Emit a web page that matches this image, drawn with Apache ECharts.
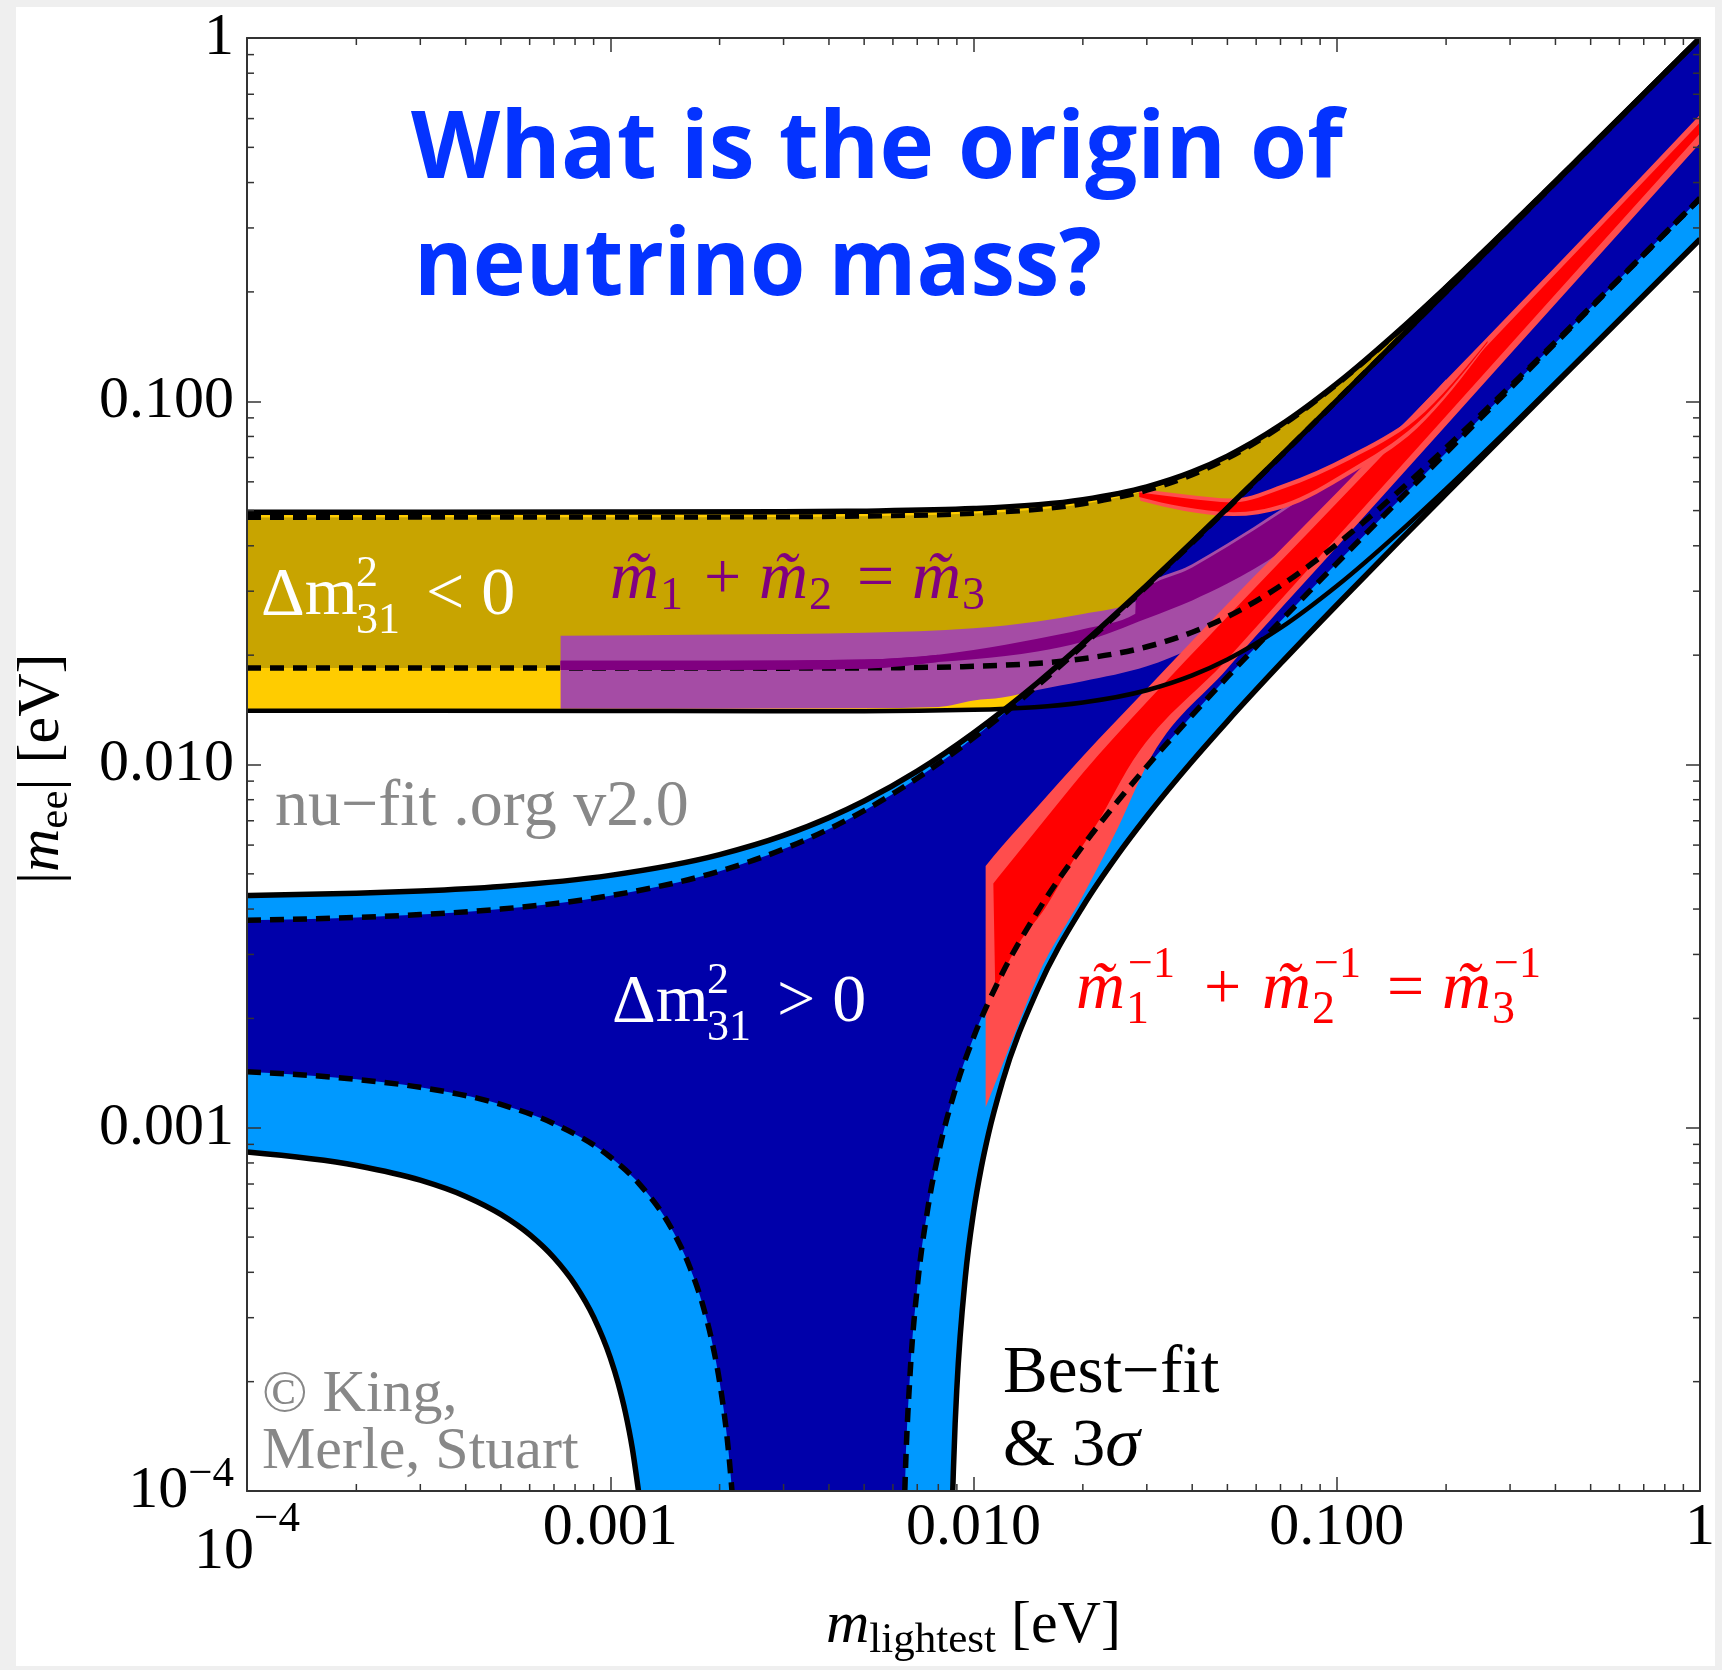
<!DOCTYPE html>
<html><head><meta charset="utf-8">
<script src="https://cdn.jsdelivr.net/npm/echarts@6/dist/echarts.min.js"></script>
<style>
html,body{margin:0;padding:0;background:#efefef;}
#panel{position:absolute;left:16px;top:7px;width:1699px;height:1659px;background:#fff;}
#chart{position:absolute;left:0;top:0;width:1722px;height:1670px;}
</style></head><body>
<div id="panel"></div><div id="chart"></div>
<script>
// ---------------- data: [m_lightest (eV), |m_ee| (eV)] ----------------
const NO_3S_UPPER = [[1e-4,0.004357],[2e-4,0.004422],[3e-4,0.004487],[5e-4,0.004618],[1e-3,0.004952],[2e-3,0.005647],[3e-3,0.006378],[4e-3,0.007140],[5e-3,0.007932],[7e-3,0.009588],[0.01,0.01221],[0.012,0.01402],[0.015,0.01679],[0.02,0.02152],[0.025,0.02632],[0.03,0.03117],[0.04,0.04096],[0.05,0.05081],[0.07,0.07061],[0.1,0.1004],[0.15,0.1503],[0.2,0.2002],[0.3,0.3002],[0.5,0.5001],[1,1.0]];
const NO_BEST_UPPER = [[1e-4,0.003724],[2e-4,0.003793],[3e-4,0.003862],[5e-4,0.004000],[1e-3,0.004354],[2e-3,0.005086],[3e-3,0.005851],[4e-3,0.006644],[5e-3,0.007464],[7e-3,0.009169],[0.01,0.01184],[0.012,0.01368],[0.015,0.01649],[0.02,0.02126],[0.025,0.02610],[0.03,0.03097],[0.04,0.04079],[0.05,0.05067],[0.07,0.07050],[0.1,0.1004],[0.15,0.1502],[0.2,0.2002],[0.3,0.3001],[0.5,0.5001],[1,1.0]];
const NO_BEST_LOWER_LEFT = [[1e-4,0.001427],[2e-4,0.001359],[3e-4,0.001292],[5e-4,0.001159],[7e-4,0.001026],[1e-3,0.0008308],[1.2e-3,0.0007020],[1.5e-3,0.0005114],[1.65e-3,0.0004169],[1.8e-3,0.0003235],[1.9e-3,0.0002614],[2e-3,0.0001999],[2.05e-3,0.0001691],[2.1e-3,0.0001386],[2.15e-3,0.0001079],[2.163e-3,0.0001]];
const NO_BEST_LOWER_RIGHT = [[6.469e-3,0.0001],[6.5e-3,0.0001157],[6.7e-3,0.0002153],[7e-3,0.000363],[7.5e-3,0.0006066],[8e-3,0.000846],[9e-3,0.001315],[0.01,0.001772],[0.012,0.002658],[0.015,0.003933],[0.02,0.005971],[0.025,0.007943],[0.03,0.009876],[0.04,0.01367],[0.05,0.01742],[0.07,0.02481],[0.1,0.0358],[0.15,0.054],[0.2,0.07214],[0.3,0.1084],[0.5,0.1808],[1,0.3616]];
const NO_3S_LOWER_LEFT = [[1e-4,0.000858],[2e-4,0.0007875],[3e-4,0.0007171],[4e-4,0.000647],[5e-4,0.0005772],[6e-4,0.0005078],[7e-4,0.0004386],[8e-4,0.0003698],[9e-4,0.0003011],[1e-3,0.0002329],[1.05e-3,0.0001989],[1.1e-3,0.000165],[1.15e-3,0.0001311],[1.196e-3,0.0001]];
const NO_3S_LOWER_RIGHT = [[8.768e-3,0.0001],[8.8e-3,0.0001128],[8.9e-3,0.0001529],[9e-3,0.0001926],[9.5e-3,0.0003901],[0.01,0.0005842],[0.0105,0.0007754],[0.011,0.0009641],[0.012,0.001334],[0.015,0.002398],[0.02,0.004066],[0.025,0.005658],[0.03,0.007203],[0.04,0.01021],[0.05,0.01315],[0.07,0.01894],[0.1,0.02748],[0.15,0.04158],[0.2,0.05561],[0.3,0.08361],[0.5,0.1395],[1,0.2792]];

const IO_3S_UPPER = [[1e-4,0.04949],[1e-3,0.04952],[3e-3,0.04963],[5e-3,0.04983],[0.01,0.05064],[0.02,0.05361],[0.03,0.05815],[0.04,0.06392],[0.05,0.07063],[0.07,0.08597],[0.1,0.1118],[0.15,0.1581],[0.2,0.2061],[0.3,0.3041],[0.5,0.5025],[1,1.0]];
const IO_BEST_UPPER = [[1e-4,0.04789],[1e-3,0.04792],[3e-3,0.04804],[5e-3,0.04824],[0.01,0.04909],[0.02,0.05216],[0.03,0.05682],[0.04,0.06271],[0.05,0.06954],[0.07,0.08508],[0.1,0.1111],[0.15,0.1576],[0.2,0.2058],[0.3,0.3039],[0.5,0.5023],[1,1.0]];
const IO_BEST_LOWER = [[1e-4,0.01845],[1e-3,0.01844],[3e-3,0.01842],[5e-3,0.01845],[0.008,0.01853],[0.01,0.01863],[0.02,0.01955],[0.03,0.02109],[0.04,0.02312],[0.05,0.02551],[0.07,0.03104],[0.1,0.04036],[0.15,0.05712],[0.2,0.07449],[0.3,0.1099],[0.5,0.1816],[1,0.362]];
const IO_3S_LOWER = [[1e-4,0.01406],[1e-3,0.01404],[3e-3,0.01402],[5e-3,0.01402],[0.01,0.01414],[0.02,0.01482],[0.03,0.01601],[0.04,0.01759],[0.05,0.01946],[0.07,0.02376],[0.1,0.031],[0.15,0.04398],[0.2,0.05742],[0.3,0.0848],[0.5,0.1402],[1,0.2794]];

const PURPLE_3S_TOP = [[7.3e-4,0.02263],[2e-3,0.02279],[5e-3,0.02306],[0.01,0.02371],[0.015,0.02477],[0.02,0.02595],[0.0279,0.0281],[0.028,0.02958],[0.04,0.03558],[0.05,0.04058],[0.07,0.05027],[0.1,0.06375],[0.15,0.0854],[0.2,0.115]];
const PURPLE_3S_BOTTOM = [[7.3e-4,0.01425],[2e-3,0.01425],[5e-3,0.01428],[0.008,0.0144],[0.01,0.0150],[0.012,0.01528],[0.015,0.01604],[0.02,0.01695],[0.03,0.01863],[0.04,0.02084],[0.05,0.02276],[0.07,0.0302],[0.1,0.04671],[0.15,0.0775],[0.2,0.110]];
const PURPLE_BEST_TOP = [[7.3e-4,0.0193],[2e-3,0.0193],[5e-3,0.01945],[0.008,0.02006],[0.01,0.02068],[0.015,0.0222],[0.02,0.02356],[0.0279,0.0260],[0.028,0.02897],[0.04,0.03484],[0.05,0.03974],[0.07,0.04923],[0.1,0.06288],[0.15,0.082],[0.2,0.114]];
const PURPLE_BEST_BOTTOM = [[7.3e-4,0.0182],[2e-3,0.0182],[5e-3,0.01835],[0.008,0.01914],[0.01,0.01948],[0.015,0.02046],[0.02,0.02177],[0.03,0.02524],[0.04,0.0283],[0.05,0.03148],[0.07,0.03847],[0.1,0.0518],[0.15,0.0782],[0.2,0.111]];

const RED_NO_3S_TOP = [[0.0108,0.005257],[0.012,0.005962],[0.015,0.007654],[0.02,0.01054],[0.03,0.01616],[0.05,0.02767],[0.1,0.05596],[0.2,0.1146],[0.5,0.2962],[1,0.615]];
const RED_NO_3S_BOTTOM = [[0.0108,0.001139],[0.011,0.001192],[0.012,0.001487],[0.013,0.001824],[0.015,0.002602],[0.02,0.004352],[0.025,0.006706],[0.03,0.009952],[0.05,0.01837],[0.1,0.03969],[0.2,0.08574],[0.5,0.2375],[1,0.513]];
const RED_NO_BEST_TOP = [[0.01134,0.004705],[0.012,0.005047],[0.015,0.006651],[0.02,0.00948],[0.03,0.01485],[0.05,0.0255],[0.1,0.05244],[0.2,0.1083],[0.5,0.2831],[1,0.5855]];
const RED_NO_BEST_BOTTOM = [[0.01148,0.002396],[0.01315,0.003144],[0.01577,0.004036],[0.01882,0.005445],[0.02238,0.007139],[0.02642,0.009625],[0.05,0.01952],[0.1,0.04218],[0.2,0.09113],[0.5,0.2527],[1,0.5462]];
const RED_IO_3S_TOP = [[0.02839,0.05743],[0.03776,0.05548],[0.052,0.05397],[0.07112,0.05907],[0.1087,0.07124],[0.1661,0.09215],[0.26,0.1478]];
const RED_IO_3S_BOTTOM = [[0.02879,0.05321],[0.03776,0.04999],[0.052,0.04829],[0.07112,0.0507],[0.1087,0.06288],[0.1661,0.08419],[0.26,0.1438]];
const RED_IO_BEST_TOP = [[0.02859,0.05606],[0.03776,0.05416],[0.052,0.05267],[0.07112,0.05743],[0.1087,0.06905],[0.1661,0.08933],[0.26,0.1466]];
const RED_IO_BEST_BOTTOM = [[0.02859,0.05454],[0.03776,0.05121],[0.052,0.04947],[0.07112,0.05212],[0.1087,0.06488],[0.1661,0.08688],[0.26,0.1450]];

const TICK_LABELS = {'-4':'{a|10}{b|−4}','-3':'0.001','-2':'0.010','-1':'0.100','0':'1'};
const MINOR_MANTISSA = [2,3,4,5,6,7,8,9];
const DECADES = [1e-4,1e-3,1e-2,1e-1];

// ---------------- styles ----------------
const SERIF = '"Liberation Serif", "Times New Roman", serif';
const C = {darkBlue:'#0000aa', lightBlue:'#0099ff', gold:'#c8a400', yellow:'#ffcc00',
  lPurple:'#a54ca5', dPurple:'#800080', lRed:'#ff4d4d', red:'#ff0000', title:'#0433ff', gray:'#888888'};

const MINOR_TICKS = [];
DECADES.forEach(d => MINOR_MANTISSA.forEach(k => MINOR_TICKS.push(k*d)));

// monotone cubic (Steffen) bezier segments through pixel points with increasing x
function monoSegs(P) {
  const n = P.length, h = [], s = [], m = new Array(n);
  if (n < 2) return [];
  for (let i = 0; i < n - 1; i++) {
    h[i] = Math.max(P[i+1][0] - P[i][0], 1e-6);
    s[i] = (P[i+1][1] - P[i][1]) / h[i];
  }
  for (let i = 1; i < n - 1; i++) {
    const p = (s[i-1] * h[i] + s[i] * h[i-1]) / (h[i-1] + h[i]);
    m[i] = (Math.sign(s[i-1]) + Math.sign(s[i])) * Math.min(Math.abs(s[i-1]), Math.abs(s[i]), 0.5 * Math.abs(p)) || 0;
  }
  if (n > 2) {
    m[0] = (3 * s[0] - m[1]) / 2; if (Math.sign(m[0]) !== Math.sign(s[0])) m[0] = 0;
    m[n-1] = (3 * s[n-2] - m[n-2]) / 2; if (Math.sign(m[n-1]) !== Math.sign(s[n-2])) m[n-1] = 0;
  } else { m[0] = m[1] = s[0]; }
  const segs = [];
  for (let i = 0; i < n - 1; i++) {
    const dx = h[i] / 3;
    segs.push([P[i][0] + dx, P[i][1] + m[i] * dx, P[i+1][0] - dx, P[i+1][1] - m[i+1] * dx, P[i+1][0], P[i+1][1]]);
  }
  return segs;
}
const r2 = v => Math.round(v * 100) / 100;
function fwdPath(P) {
  let d = '';
  monoSegs(P).forEach(g => { d += ' C' + r2(g[0]) + ',' + r2(g[1]) + ' ' + r2(g[2]) + ',' + r2(g[3]) + ' ' + r2(g[4]) + ',' + r2(g[5]); });
  return d;
}
function revPath(P) {
  const segs = monoSegs(P); let d = '';
  for (let i = segs.length - 1; i >= 0; i--) {
    const g = segs[i];
    d += ' C' + r2(g[2]) + ',' + r2(g[3]) + ' ' + r2(g[0]) + ',' + r2(g[1]) + ' ' + r2(P[i][0]) + ',' + r2(P[i][1]);
  }
  return d;
}
// top: L->R; bottoms: list of lower branches each L->R (ordered left to right)
function fillSeries(name, top, bottoms, color, z) {
  return {type:'custom', name, coordinateSystem:'cartesian2d', xAxisIndex:0, yAxisIndex:0,
    data:[[0.01,0.01]], clip:true, silent:true, z, animation:false,
    renderItem(params, api) {
      const T = top.map(p => api.coord(p));
      let d = 'M' + r2(T[0][0]) + ',' + r2(T[0][1]) + fwdPath(T);
      for (let b = bottoms.length - 1; b >= 0; b--) {
        const B = bottoms[b].map(p => api.coord(p));
        d += ' L' + r2(B[B.length-1][0]) + ',' + r2(B[B.length-1][1]) + revPath(B);
      }
      d += ' Z';
      return {type:'path', shape:{pathData:d}, style:{fill:color, stroke:null}};
    }};
}
function curve(name, data, dashed, width) {
  return {type:'custom', name, coordinateSystem:'cartesian2d', xAxisIndex:0, yAxisIndex:0,
    data:[[0.01,0.01]], clip:true, silent:true, z:11, animation:false,
    renderItem(params, api) {
      const P = data.map(p => api.coord(p));
      const d = 'M' + r2(P[0][0]) + ',' + r2(P[0][1]) + fwdPath(P);
      return {type:'path', shape:{pathData:d},
        style:{fill:null, stroke:'#000', lineWidth:width, lineDash: dashed ? [14,9] : null, lineCap:'butt', lineJoin:'round'}};
    }};
}

// ---------------- text helpers ----------------
const mctx = document.createElement('canvas').getContext('2d');
const offCache = {};
function baseOff(font) {
  if (offCache[font] !== undefined) return offCache[font];
  mctx.font = font; mctx.textBaseline = 'middle';
  const a = mctx.measureText('H').actualBoundingBoxDescent;
  mctx.textBaseline = 'alphabetic';
  const b = mctx.measureText('H').actualBoundingBoxDescent;
  return (offCache[font] = a - b);
}
function tw(font, s) { mctx.font = font; mctx.textBaseline = 'alphabetic'; return mctx.measureText(s).width; }
function T(x, base, s, font, fill, extra) {
  return Object.assign({type:'text', x:x, y: base - baseOff(font), silent:true, z:100,
    style:{text:s, x:0, y:0, font:font, fill:fill, align:'left', textAlign:'left',
      verticalAlign:'middle', textVerticalAlign:'middle'}}, extra || {});
}
const f = (size, style) => (style ? style + ' ' : '') + size + 'px ' + SERIF;
const graphics = [];

// title
const TF = 'bold 93px "Open Sans", "Lato", sans-serif';
graphics.push(T(411, 178, 'What is the origin of', TF, C.title, {scaleX: 932 / tw(TF, 'What is the origin of')}));
graphics.push(T(414, 295, 'neutrino mass?', TF, C.title, {scaleX: 688 / tw(TF, 'neutrino mass?')}));

// Δm² labels
function dLabel(x0, base, op) {
  graphics.push(T(x0, base, 'Δm', f(68), '#fff'));
  graphics.push(T(x0 + 95, base - 28, '2', f(44), '#fff'));
  graphics.push(T(x0 + 95, base + 19, '31', f(44), '#fff'));
  graphics.push(T(x0 + 165, base, op + ' 0', f(68), '#fff'));
}
dLabel(261, 614, '<');
dLabel(612, 1021, '>');

// purple sum rule
(function(){
  const M = f(68,'italic'), R = f(66), S = f(46), col = C.dPurple;
  const mw = tw(M, 'm');
  [[610,'1'],[759,'2'],[912,'3']].forEach(p => {
    graphics.push(T(p[0], 598, 'm̃', M, col));
    graphics.push(T(p[0] + mw + 1, 609, p[1], S, col));
  });
  graphics.push(T(704, 598, '+', R, col));
  graphics.push(T(857, 598, '=', R, col));
})();
// red inverse sum rule
(function(){
  const M = f(68,'italic'), R = f(66), S = f(46), U = f(44), col = C.red;
  const mw = tw(M, 'm');
  [[1076,'1'],[1262,'2'],[1442,'3']].forEach(p => {
    graphics.push(T(p[0], 1008, 'm̃', M, col));
    graphics.push(T(p[0] + mw + 1, 1023, p[1], S, col));
    graphics.push(T(p[0] + mw + 3, 977, '−1', U, col));
  });
  graphics.push(T(1204, 1008, '+', R, col));
  graphics.push(T(1387, 1008, '=', R, col));
})();

graphics.push(T(275, 825, 'nu−fit .org v2.0', f(66), C.gray));
graphics.push(T(1003, 1392, 'Best−fit', f(67), '#000'));
graphics.push(T(1003, 1465, '& 3', f(67), '#000'));
graphics.push(T(1003 + tw(f(67), '& 3'), 1465, 'σ', f(70,'italic'), '#000'));
graphics.push(T(262, 1411, '© King,', f(60), C.gray));
graphics.push(T(262, 1468, 'Merle, Stuart', f(60), C.gray));

// x axis title
(function(){
  let x = 826;
  graphics.push(T(x, 1642, 'm', f(60,'italic'), '#000')); x += tw(f(60,'italic'), 'm');
  graphics.push(T(x, 1652, 'lightest', f(43), '#000')); x += tw(f(43), 'lightest');
  graphics.push(T(x, 1642, ' [eV]', f(60), '#000'));
})();
// y axis title (rotated)
(function(){
  const ch = []; let x = 0;
  const parts = [['|',f(60),0],['m',f(60,'italic'),0],['ee',f(43),9],['|',f(60),0],[' [eV]',f(60),0]];
  parts.forEach(p => { ch.push(T(x, p[2], p[0], p[1], '#000')); x += tw(p[1], p[0]); });
  graphics.push({type:'group', x:58, y:884, rotation:Math.PI/2, children:ch, z:100});
})();

// ---------------- chart ----------------
const chart = echarts.init(document.getElementById('chart'), null, {renderer:'canvas', width:1722, height:1670});
const labelFmt = v => TICK_LABELS[String(Math.round(Math.log10(v)))] || '';
const axisCommon = {type:'log', logBase:10, z:20, splitLine:{show:false},
  axisLine:{show:true, lineStyle:{color:'#333', width:2}},
  axisTick:{show:true, inside:true, length:14, lineStyle:{color:'#333', width:1.5}}};

const series = [
  fillSeries('IO 3σ', IO_3S_UPPER, [IO_3S_LOWER], C.yellow, 1),
  fillSeries('IO best', IO_BEST_UPPER, [IO_BEST_LOWER], C.gold, 2),
  fillSeries('NO 3σ', NO_3S_UPPER, [NO_3S_LOWER_LEFT, NO_3S_LOWER_RIGHT], C.lightBlue, 3),
  fillSeries('NO best', NO_BEST_UPPER, [NO_BEST_LOWER_LEFT, NO_BEST_LOWER_RIGHT], C.darkBlue, 4),
  fillSeries('sum rule 3σ', PURPLE_3S_TOP, [PURPLE_3S_BOTTOM], C.lPurple, 5),
  fillSeries('sum rule best', PURPLE_BEST_TOP, [PURPLE_BEST_BOTTOM], C.dPurple, 6),
  fillSeries('inv NO 3σ', RED_NO_3S_TOP, [RED_NO_3S_BOTTOM], C.lRed, 7),
  fillSeries('inv NO best', RED_NO_BEST_TOP, [RED_NO_BEST_BOTTOM], C.red, 8),
  fillSeries('inv IO 3σ', RED_IO_3S_TOP, [RED_IO_3S_BOTTOM], C.lRed, 9),
  fillSeries('inv IO best', RED_IO_BEST_TOP, [RED_IO_BEST_BOTTOM], C.red, 10),
  curve('NO 3σ upper', NO_3S_UPPER, false, 5.5),
  curve('NO 3σ lower L', NO_3S_LOWER_LEFT, false, 5.5),
  curve('NO 3σ lower R', NO_3S_LOWER_RIGHT, false, 5.5),
  curve('IO 3σ upper', IO_3S_UPPER, false, 5.5),
  curve('IO 3σ lower', IO_3S_LOWER, false, 4.5),
  curve('NO best upper', NO_BEST_UPPER, true, 5.5),
  curve('NO best lower L', NO_BEST_LOWER_LEFT, true, 5.5),
  curve('NO best lower R', NO_BEST_LOWER_RIGHT, true, 5.5),
  curve('IO best upper', IO_BEST_UPPER, true, 5),
  curve('IO best lower', IO_BEST_LOWER, true, 5.5),
  fillSeries('sum rule best (front)', PURPLE_BEST_TOP.filter(p => p[0] <= 0.008), [PURPLE_BEST_BOTTOM.filter(p => p[0] <= 0.008)], C.dPurple, 12),
  {type:'custom', name:'minor ticks', coordinateSystem:'cartesian2d', xAxisIndex:0, yAxisIndex:0,
    data:[[0.01,0.01]], silent:true, z:21, animation:false,
    renderItem(params, api) {
      const ch = [], st = {stroke:'#333', lineWidth:1.5};
      MINOR_TICKS.forEach(v => {
        const b = api.coord([v, 1e-4]), t = api.coord([v, 1]);
        const l = api.coord([1e-4, v]), r = api.coord([1, v]);
        ch.push({type:'line', shape:{x1:b[0], y1:b[1], x2:b[0], y2:b[1]-7}, style:st});
        ch.push({type:'line', shape:{x1:t[0], y1:t[1], x2:t[0], y2:t[1]+7}, style:st});
        ch.push({type:'line', shape:{x1:l[0], y1:l[1], x2:l[0]+7, y2:l[1]}, style:st});
        ch.push({type:'line', shape:{x1:r[0], y1:r[1], x2:r[0]-7, y2:r[1]}, style:st});
      });
      return {type:'group', children:ch};
    }}
];

chart.setOption({
  animation:false,
  backgroundColor:'transparent',
  grid:{left:247, top:38, right:22, bottom:179, containLabel:false, outerBoundsMode:'none'},
  xAxis:[
    Object.assign({}, axisCommon, {min:1e-4, max:1, position:'bottom',
      axisLabel:{show:true, margin:7, fontFamily:SERIF, fontSize:60, lineHeight:60, color:'#000', formatter:labelFmt,
        rich:{a:{fontFamily:SERIF, fontSize:60, lineHeight:84, verticalAlign:'bottom', color:'#000'},
              b:{fontFamily:SERIF, fontSize:43, lineHeight:49, verticalAlign:'top', color:'#000'}}}}),
    Object.assign({}, axisCommon, {min:1e-4, max:1, position:'top', axisLabel:{show:false}})
  ],
  yAxis:[
    Object.assign({}, axisCommon, {min:1e-4, max:1, position:'left',
      axisLabel:{show:true, margin:13, fontFamily:SERIF, fontSize:60, lineHeight:60, color:'#000', formatter:labelFmt,
        rich:{a:{fontFamily:SERIF, fontSize:60, lineHeight:76, verticalAlign:'middle', color:'#000'},
              b:{fontFamily:SERIF, fontSize:43, lineHeight:43, verticalAlign:'top', color:'#000'}}}}),
    Object.assign({}, axisCommon, {min:1e-4, max:1, position:'right', axisLabel:{show:false}})
  ],
  series: series,
  graphic: graphics
});
</script></body></html>
